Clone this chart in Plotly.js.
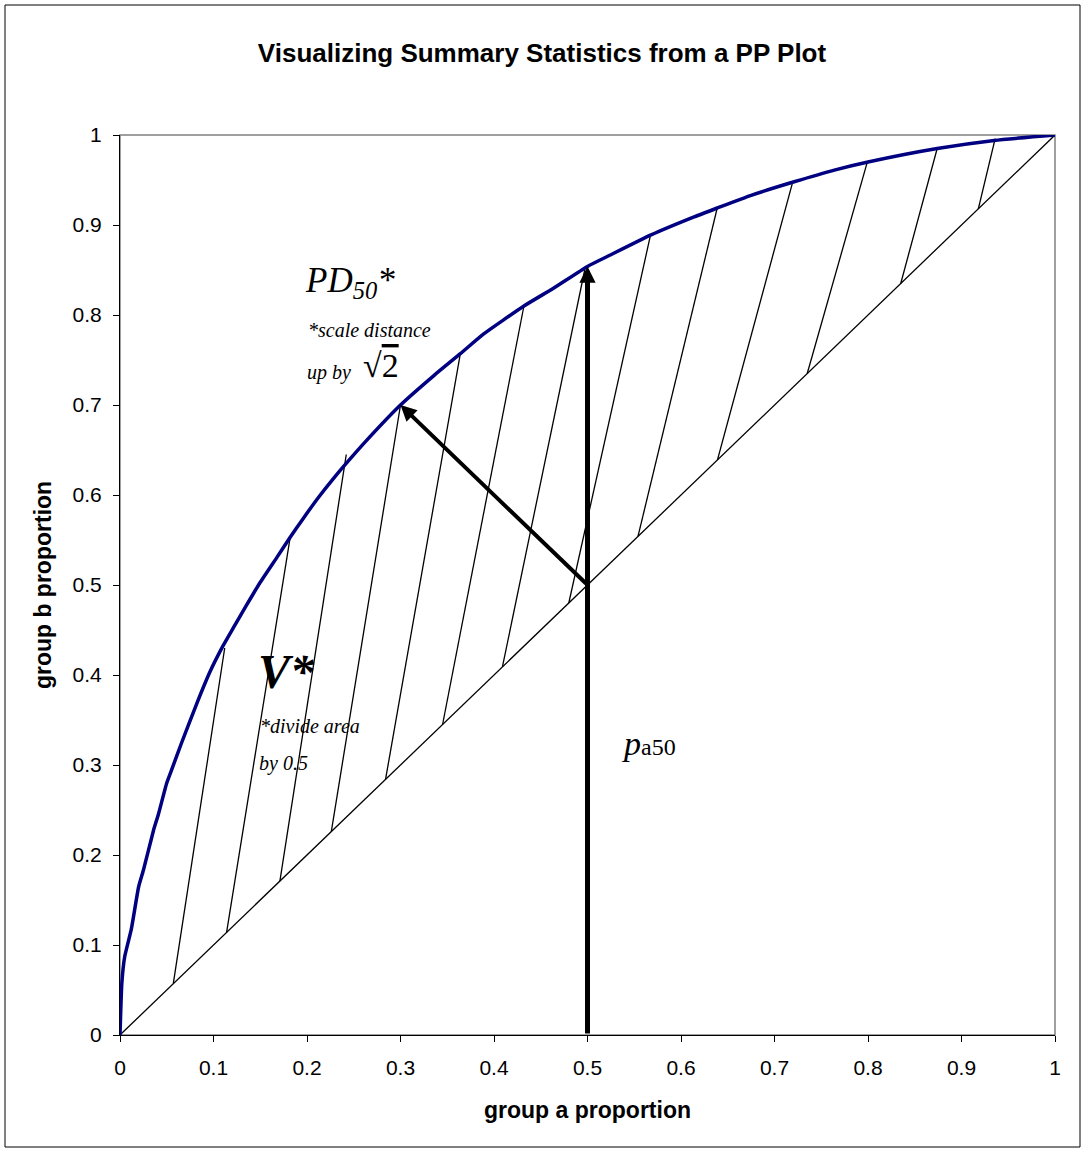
<!DOCTYPE html>
<html>
<head>
<meta charset="utf-8">
<script src="https://cdn.plot.ly/plotly-3.0.1.min.js"></script>
<style>
  html, body { margin: 0; padding: 0; background: #fff; }
  #chart { width: 1084px; height: 1151px; }
</style>
</head>
<body>
<div id="chart"></div>
<script>
// PP curve: group a proportion (x) vs group b proportion (y)
const groupA = [0, 0.002, 0.005, 0.012, 0.02, 0.025, 0.036, 0.041, 0.05, 0.055, 0.066, 0.082, 0.096, 0.11, 0.121, 0.135, 0.15, 0.168, 0.182, 0.196, 0.212, 0.228, 0.241, 0.264, 0.3, 0.336, 0.364, 0.389, 0.432, 0.464, 0.5, 0.525, 0.568, 0.614, 0.639, 0.675, 0.721, 0.764, 0.8, 0.874, 0.935, 1];
const groupB = [0, 0.058, 0.087, 0.117, 0.165, 0.183, 0.228, 0.245, 0.28, 0.294, 0.325, 0.368, 0.403, 0.432, 0.452, 0.477, 0.503, 0.531, 0.553, 0.574, 0.597, 0.618, 0.634, 0.661, 0.7, 0.733, 0.757, 0.779, 0.81, 0.83, 0.854, 0.867, 0.889, 0.909, 0.919, 0.933, 0.948, 0.961, 0.97, 0.985, 0.994, 1];

// Reference diagonal
const diagA = [0, 1];
const diagB = [0, 1];

// Hatch lines: start on the diagonal (x = y = hatchFrom), end on the curve
const hatchFrom = [0.057, 0.114, 0.171, 0.226, 0.284, 0.345, 0.409, 0.48, 0.554, 0.639, 0.735, 0.835, 0.918];
const hatchToA  = [0.112, 0.182, 0.242, 0.3, 0.364, 0.432, 0.497, 0.567, 0.639, 0.719, 0.799, 0.874, 0.936];
const hatchToB  = [0.43, 0.553, 0.645, 0.7, 0.757, 0.81, 0.85, 0.887, 0.92, 0.946, 0.969, 0.985, 0.996];

// Summary statistic arrows
const pa50 = 0.5;            // median of group a
const pa50CurveB = 0.854;    // curve value at pa50
const pdTipA = 0.3, pdTipB = 0.7; // PD50 perpendicular end on curve

const tickVals = [0, 0.1, 0.2, 0.3, 0.4, 0.5, 0.6, 0.7, 0.8, 0.9, 1];
const tickText = ['0', '0.1', '0.2', '0.3', '0.4', '0.5', '0.6', '0.7', '0.8', '0.9', '1'];

const hx = [], hy = [];
for (let i = 0; i < hatchFrom.length; i++) {
  hx.push(hatchFrom[i], hatchToA[i], null);
  hy.push(hatchFrom[i], hatchToB[i], null);
}

const SANS = 'Arial, "Liberation Sans", sans-serif';
const SERIF = '"Times New Roman", "Liberation Serif", serif';

const traces = [
  { x: diagA, y: diagB, mode: 'lines', line: { color: '#000', width: 1.3 }, hoverinfo: 'skip', showlegend: false },
  { x: hx, y: hy, mode: 'lines', line: { color: '#000', width: 1.3 }, connectgaps: false, hoverinfo: 'skip', showlegend: false },
  { x: groupA, y: groupB, mode: 'lines', line: { color: '#000080', width: 3.5, shape: 'spline', smoothing: 0.5 }, showlegend: false }
];

const axisCommon = {
  range: [0, 1],
  tickmode: 'array',
  tickvals: tickVals,
  ticktext: tickText,
  ticks: 'outside',
  ticklen: 6,
  tickwidth: 1,
  tickcolor: '#000',
  showline: true,
  linecolor: '#000',
  linewidth: 1,
  showgrid: false,
  zeroline: false,
  fixedrange: true,
  tickfont: { family: SANS, size: 21, color: '#000' }
};

const layout = {
  width: 1084,
  height: 1151,
  margin: { l: 120, r: 29, t: 135, b: 116 },
  paper_bgcolor: '#fff',
  plot_bgcolor: '#fff',
  showlegend: false,
  title: {
    text: '<b>Visualizing Summary Statistics from a PP Plot</b>',
    font: { family: SANS, size: 26, color: '#000' },
    x: 0.5, xref: 'container', xanchor: 'center',
    y: 1 - 53 / 1151, yref: 'container', yanchor: 'middle'
  },
  xaxis: Object.assign({}, axisCommon, {
    ticklabelstandoff: 8,
    title: { text: '<b>group a proportion</b>', font: { family: SANS, size: 23, color: '#000' }, standoff: 23 }
  }),
  yaxis: Object.assign({}, axisCommon, {
    ticklabelstandoff: 7,
    title: { text: '<b>group b proportion</b>', font: { family: SANS, size: 23, color: '#000' }, standoff: 14 }
  }),
  shapes: [
    { type: 'rect', xref: 'paper', yref: 'paper', x0: 0, x1: 1, y0: 0, y1: 1, line: { color: '#808080', width: 1.5 }, layer: 'below' },
    { type: 'rect', xref: 'paper', yref: 'paper', x0: (5 - 120) / 935, x1: (1080 - 120) / 935, y0: (1035 - 1147) / 900, y1: (1035 - 5) / 900, line: { color: '#000', width: 1 }, layer: 'below' }
  ],
  annotations: [
    { x: pa50, y: pa50CurveB, ax: pa50, ay: 0, xref: 'x', yref: 'y', axref: 'x', ayref: 'y', text: '', showarrow: true, arrowhead: 2, arrowsize: 0.65, arrowwidth: 5, arrowcolor: '#000', standoff: 0 },
    { x: pdTipA, y: pdTipB, ax: pa50, ay: pa50, xref: 'x', yref: 'y', axref: 'x', ayref: 'y', text: '', showarrow: true, arrowhead: 2, arrowsize: 0.8, arrowwidth: 4, arrowcolor: '#000', standoff: 0 },
    { x: 0.196, y: 0.8356, xref: 'x', yref: 'y', xanchor: 'left', yanchor: 'middle', showarrow: false, text: '<i>PD<sub>50</sub>*</i>', font: { family: SERIF, size: 35, color: '#000' } },
    { x: 0.1985, y: 0.7833, xref: 'x', yref: 'y', xanchor: 'left', yanchor: 'middle', showarrow: false, text: '<i>*scale distance</i>', font: { family: SERIF, size: 20, color: '#000' } },
    { x: 0.1975, y: 0.7356, xref: 'x', yref: 'y', xanchor: 'left', yanchor: 'middle', showarrow: false, text: '<i>up by</i>', font: { family: SERIF, size: 20, color: '#000' } },
    { x: 0.258, y: 0.744, xref: 'x', yref: 'y', xanchor: 'left', yanchor: 'middle', showarrow: false, text: '√<span style="text-decoration:overline">2</span>', font: { family: SERIF, size: 34, color: '#000' } },
    { x: 0.145, y: 0.4044, xref: 'x', yref: 'y', xanchor: 'left', yanchor: 'middle', showarrow: false, text: '<b><i>V*</i></b>', font: { family: SERIF, size: 48, color: '#000' } },
    { x: 0.1478, y: 0.3433, xref: 'x', yref: 'y', xanchor: 'left', yanchor: 'middle', showarrow: false, text: '<i>*divide area</i>', font: { family: SERIF, size: 20, color: '#000' } },
    { x: 0.1464, y: 0.3022, xref: 'x', yref: 'y', xanchor: 'left', yanchor: 'middle', showarrow: false, text: '<i>by 0.5</i>', font: { family: SERIF, size: 20, color: '#000' } },
    { x: 0.535, y: 0.3244, xref: 'x', yref: 'y', xanchor: 'left', yanchor: 'middle', showarrow: false, text: '<i>p</i><span style="font-size:24px">a50</span>', font: { family: SERIF, size: 34, color: '#000' } }
  ]
};

Plotly.newPlot('chart', traces, layout, { displayModeBar: false, staticPlot: true });
</script>
</body>
</html>
